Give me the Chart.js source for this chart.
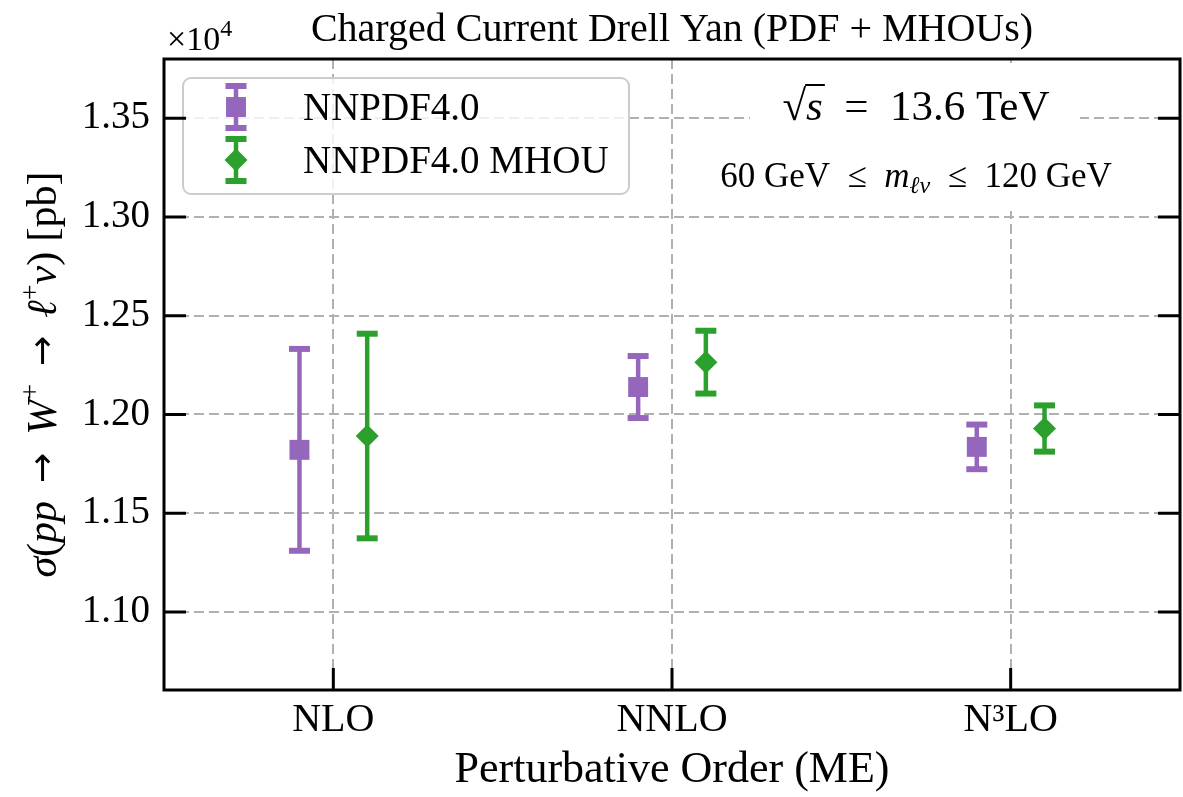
<!DOCTYPE html>
<html>
<head>
<meta charset="utf-8">
<script src="https://cdn.jsdelivr.net/npm/chart.js"></script>
<style>
  html, body { margin: 0; padding: 0; background: #fff; overflow: hidden; }
  canvas { display: block; }
</style>
</head>
<body>
<canvas id="xsec-chart" width="1183" height="797"></canvas>
<script>
// perturbative orders on the x axis
const orders = ['NLO', 'NNLO', 'N³LO']
// W+ cross section in pb, central value and symmetric uncertainty
const nnpdfCentral = [11821, 12139, 11836]
const nnpdfErr = [511, 157, 113]
const mhouCentral = [11891, 12265, 11929]
const mhouErr = [518, 159, 117]
// y axis tick values (pb)
const yTicks = [11000, 11500, 12000, 12500, 13000, 13500]

const PURPLE = '#9467bd'
const GREEN = '#2ca02c'
const SERIF = "'Liberation Serif', serif"
const SHIFT = 0.1

Chart.defaults.font.family = SERIF
Chart.defaults.color = '#000'

function markerPoints(central, shift) {
	return central.map((v, i) => ({ x: i + shift, y: v }))
}

// two points per bar (low, high) plus a null to break the line
function errorPoints(central, err, shift) {
	const pts = []
	central.forEach((v, i) => {
		pts.push({ x: i + shift, y: v - err[i] }, { x: i + shift, y: v + err[i] }, { x: i + shift, y: null })
	})
	return pts
}

// draw a row of text pieces with their own fonts, centred on x
function drawRuns(ctx, runs, x, y, align) {
	let total = 0
	runs.forEach(r => {
		ctx.font = r.font
		r.w = ctx.measureText(r.t).width
		total += r.w
	})
	let cx = align === 'left' ? x : x - total / 2
	const start = cx
	runs.forEach(r => {
		ctx.font = r.font
		ctx.fillText(r.t, cx, y + (r.dy || 0))
		r.x = cx
		cx += r.w
	})
	return { left: start, right: cx }
}

function drawMarker(ctx, style, x, y, r, color) {
	ctx.fillStyle = color
	ctx.beginPath()
	if (style === 'rect') {
		const s = r * Math.SQRT1_2
		ctx.rect(x - s, y - s, 2 * s, 2 * s)
	} else {
		ctx.moveTo(x, y - r)
		ctx.lineTo(x + r, y)
		ctx.lineTo(x, y + r)
		ctx.lineTo(x - r, y)
		ctx.closePath()
	}
	ctx.fill()
}

const seriesStyle = [
	{ label: 'NNPDF4.0', color: PURPLE, style: 'rect', radius: 14.1 },
	{ label: 'NNPDF4.0 MHOU', color: GREEN, style: 'rectRot', radius: 11.5 },
]

const decorations = {
	id: 'decorations',
	afterDraw(chart) {
		const { ctx, chartArea: a, scales } = chart
		const x = scales.x
		const y = scales.y
		ctx.save()
		ctx.fillStyle = '#000'
		ctx.textBaseline = 'alphabetic'

		// energy and mass window note, on white boxes
		const l1 = [
			{ t: '√', font: `43px ${SERIF}` },
			{ t: 's', font: `italic 43px ${SERIF}` },
			{ t: '\u2002=\u200213.6 TeV', font: `43px ${SERIF}` },
		]
		const l2 = [
			{ t: '60 GeV\u2002≤\u2002', font: `35px ${SERIF}` },
			{ t: 'm', font: `italic 35px ${SERIF}` },
			{ t: 'ℓν', font: `italic 24px ${SERIF}`, dy: 6 },
			{ t: '\u2002≤\u2002120 GeV', font: `35px ${SERIF}` },
		]
		ctx.fillStyle = '#fff'
		ctx.fillRect(750, 63, 330, 80)
		ctx.fillRect(718, 143, 396, 68)
		ctx.fillStyle = '#000'
		drawRuns(ctx, l1, 916, 120)
		// bar over the s
		ctx.fillRect(l1[1].x - 1, 120 - 36, l1[1].w + 3, 2)
		drawRuns(ctx, l2, 916, 187)

		// legend box
		ctx.beginPath()
		ctx.roundRect(183, 78, 446, 116, 8)
		ctx.fillStyle = 'rgba(255,255,255,0.8)'
		ctx.fill()
		ctx.strokeStyle = '#cccccc'
		ctx.lineWidth = 2
		ctx.stroke()
		seriesStyle.forEach((s, k) => {
			const cy = 107 + k * 53
			const cx = 236
			ctx.strokeStyle = s.color
			ctx.lineWidth = 4.5
			ctx.beginPath()
			ctx.moveTo(cx, cy - 21)
			ctx.lineTo(cx, cy + 21)
			ctx.stroke()
			ctx.lineWidth = 6
			ctx.beginPath()
			ctx.moveTo(cx - 10.5, cy - 21)
			ctx.lineTo(cx + 10.5, cy - 21)
			ctx.moveTo(cx - 10.5, cy + 21)
			ctx.lineTo(cx + 10.5, cy + 21)
			ctx.stroke()
			drawMarker(ctx, s.style, cx, cy, s.radius, s.color)
			ctx.fillStyle = '#000'
			ctx.font = `39px ${SERIF}`
			ctx.fillText(s.label, 303, cy + 13)
		})

		// frame
		ctx.strokeStyle = '#000'
		ctx.lineWidth = 3
		ctx.strokeRect(a.left, a.top, a.width, a.height)

		// inward ticks: left, right and bottom
		ctx.lineWidth = 3
		ctx.beginPath()
		y.ticks.forEach(t => {
			const py = y.getPixelForValue(t.value)
			ctx.moveTo(a.left, py)
			ctx.lineTo(a.left + 22, py)
			ctx.moveTo(a.right - 22, py)
			ctx.lineTo(a.right, py)
		})
		x.ticks.forEach(t => {
			const px = x.getPixelForValue(t.value)
			ctx.moveTo(px, a.bottom)
			ctx.lineTo(px, a.bottom - 22)
		})
		ctx.stroke()

		// offset text of the y axis
		drawRuns(ctx, [
			{ t: '×10', font: `34px ${SERIF}` },
			{ t: '4', font: `24px ${SERIF}`, dy: -14 },
		], a.left + 3, 50, 'left')

		// y axis title, rotated
		ctx.translate(56, (a.top + a.bottom) / 2)
		ctx.rotate(-Math.PI / 2)
		const big = `42px ${SERIF}`
		const it = `italic 42px ${SERIF}`
		const sup = `28px ${SERIF}`
		const arrow = "36px 'DejaVu Sans'"
		drawRuns(ctx, [
			{ t: 'σ', font: it },
			{ t: '(', font: big },
			{ t: 'pp', font: it },
			{ t: '\u2002→\u2002', font: arrow, dy: -2 },
			{ t: 'W', font: it },
			{ t: '+', font: sup, dy: -17 },
			{ t: '\u2002→\u2002', font: arrow, dy: -2 },
			{ t: 'ℓ', font: it },
			{ t: '+', font: sup, dy: -17 },
			{ t: 'ν', font: it },
			{ t: ') [pb]', font: big },
		], 0, 0)
		ctx.restore()
	},
}

new Chart(document.getElementById('xsec-chart'), {
	type: 'scatter',
	data: {
		datasets: [
			{
				label: seriesStyle[0].label,
				data: markerPoints(nnpdfCentral, -SHIFT),
				pointStyle: 'rect',
				pointRadius: seriesStyle[0].radius,
				backgroundColor: PURPLE,
				borderColor: PURPLE,
				pointBorderWidth: 0,
				order: 1,
			},
			{
				label: seriesStyle[1].label,
				data: markerPoints(mhouCentral, SHIFT),
				pointStyle: 'rectRot',
				pointRadius: seriesStyle[1].radius,
				backgroundColor: GREEN,
				borderColor: GREEN,
				pointBorderWidth: 0,
				order: 1,
			},
			{
				label: 'NNPDF4.0 error',
				data: errorPoints(nnpdfCentral, nnpdfErr, -SHIFT),
				showLine: true,
				spanGaps: false,
				borderColor: PURPLE,
				borderWidth: 4.5,
				pointStyle: 'line',
				pointRadius: 10.5,
				pointBorderWidth: 6,
				pointBorderColor: PURPLE,
				order: 2,
			},
			{
				label: 'NNPDF4.0 MHOU error',
				data: errorPoints(mhouCentral, mhouErr, SHIFT),
				showLine: true,
				spanGaps: false,
				borderColor: GREEN,
				borderWidth: 4.5,
				pointStyle: 'line',
				pointRadius: 10.5,
				pointBorderWidth: 6,
				pointBorderColor: GREEN,
				order: 2,
			},
		],
	},
	options: {
		responsive: false,
		animation: false,
		events: [],
		layout: { autoPadding: false, padding: { left: 0, right: 3, top: 0, bottom: 0 } },
		plugins: {
			legend: { display: false },
			tooltip: { enabled: false },
			title: {
				display: true,
				text: 'Charged Current Drell Yan (PDF + MHOUs)',
				fullSize: false,
				color: '#000',
				font: { size: 40, weight: 'normal', family: SERIF },
				padding: { top: 6, bottom: 5 },
			},
		},
		scales: {
			x: {
				type: 'linear',
				min: -0.5,
				max: 2.5,
				afterBuildTicks: s => { s.ticks = orders.map((_, i) => ({ value: i })) },
				afterFit: s => {
					s.height = 107
					s.paddingLeft = 0
					s.paddingRight = 0
				},
				ticks: {
					callback: v => orders[v] ?? '',
					font: { size: 40 },
					padding: 6,
					maxRotation: 0,
				},
				grid: { color: '#b0b0b0', lineWidth: 2, drawTicks: false },
				border: { display: false, dash: [10, 5] },
				title: {
					display: true,
					text: 'Perturbative Order (ME)',
					font: { size: 44 },
					padding: { top: 0, bottom: 0 },
				},
			},
			y: {
				type: 'linear',
				min: 10605,
				max: 13800,
				afterBuildTicks: s => { s.ticks = yTicks.map(v => ({ value: v })) },
				afterFit: s => {
					s.width = 164
					s.paddingTop = 0
					s.paddingBottom = 0
				},
				ticks: {
					callback: v => (v / 1e4).toFixed(2),
					font: { size: 39 },
					padding: 14,
				},
				grid: { color: '#b0b0b0', lineWidth: 2, drawTicks: false },
				border: { display: false, dash: [10, 5] },
			},
		},
	},
	plugins: [decorations],
})
</script>
</body>
</html>
